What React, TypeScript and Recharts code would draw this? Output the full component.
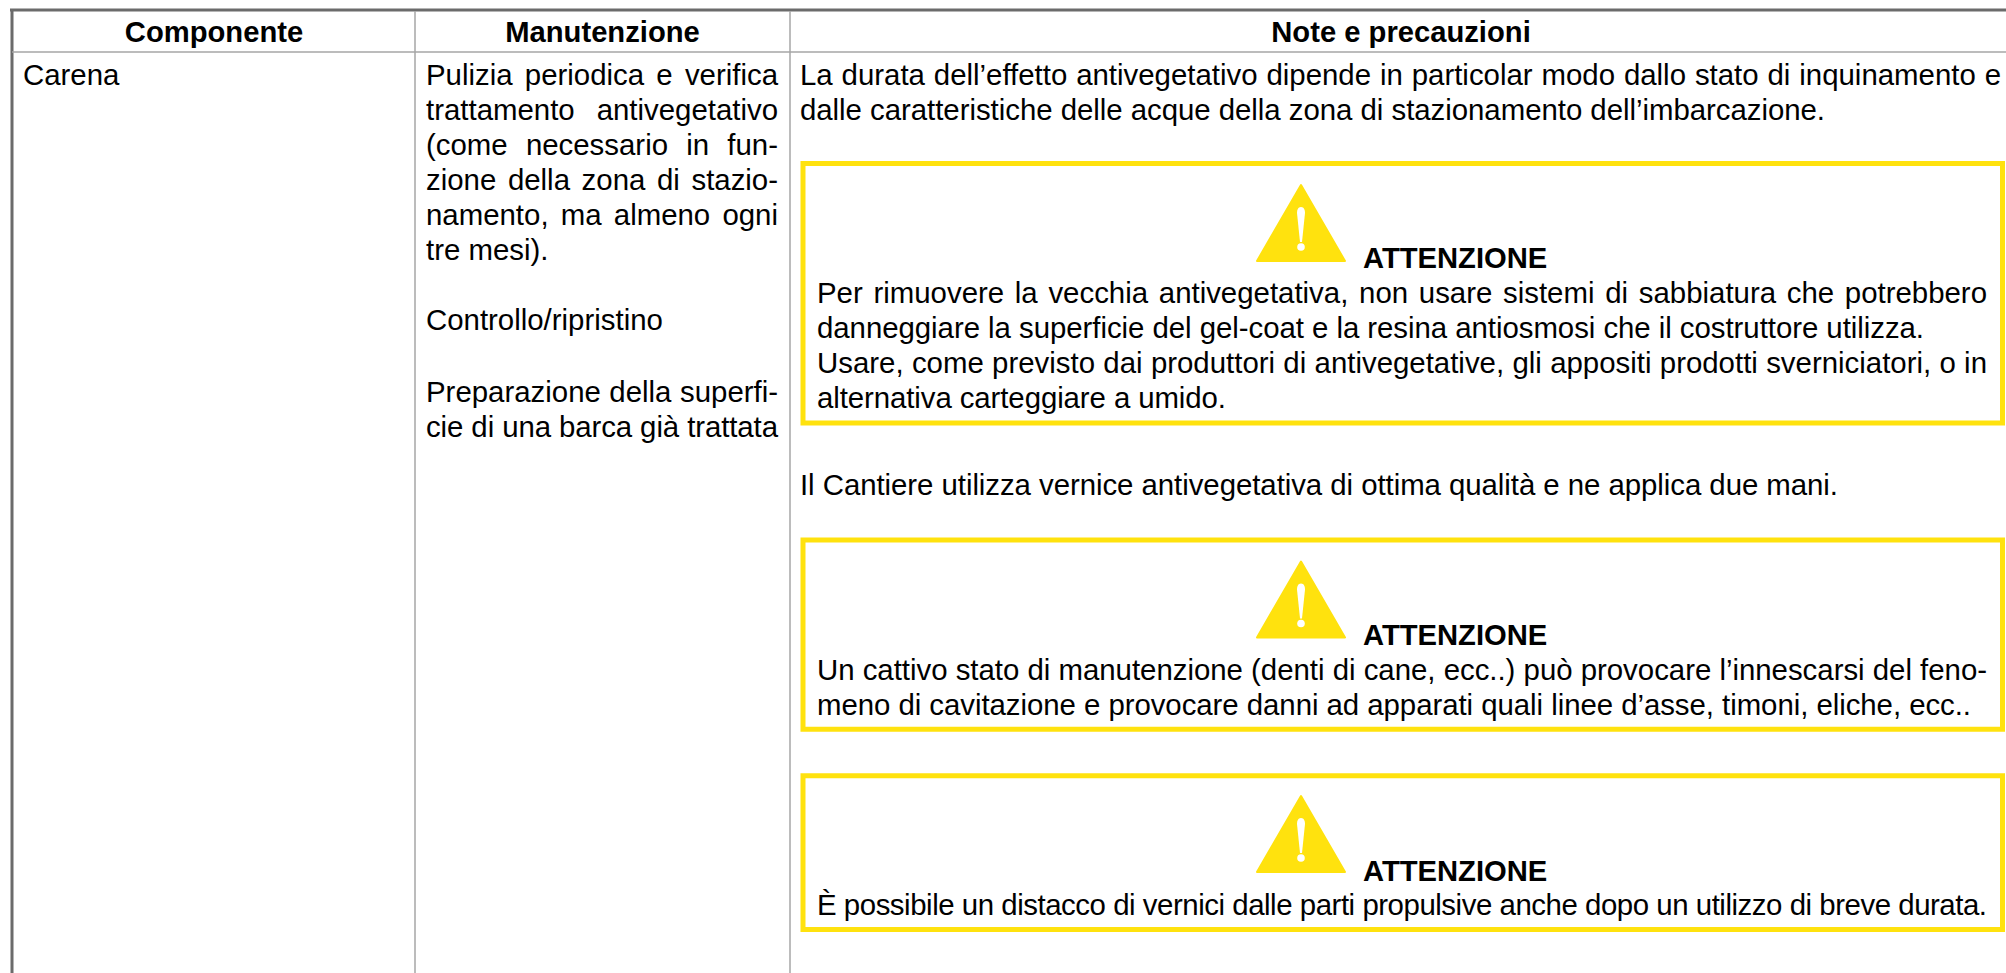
import React from "react";
import { ScatterChart, Scatter, XAxis, YAxis, ReferenceLine, ReferenceArea } from "recharts";

const WIDTH = 2006;
const HEIGHT = 973;
const FONT = "'Liberation Sans', Arial, sans-serif";
const BODY_SIZE = 29.4;
const BOLD_SIZE = 29.2;

const headers = ["Componente", "Manutenzione", "Note e precauzioni"];
const component = ["Carena"];
const maintenance = [
  "Pulizia periodica e verifica",
  "trattamento  antivegetativo",
  "(come necessario in fun-",
  "zione della zona di stazio-",
  "namento, ma almeno ogni",
  "tre mesi).",
];
const maintenance2 = ["Controllo/ripristino"];
const maintenance3 = ["Preparazione della superfi-", "cie di una barca già trattata"];
const intro = [
  "La durata dell’effetto antivegetativo dipende in particolar modo dallo stato di inquinamento e",
  "dalle caratteristiche delle acque della zona di stazionamento dell’imbarcazione.",
];
const warningTitle = "ATTENZIONE";
const warning1 = [
  "Per rimuovere la vecchia antivegetativa, non usare sistemi di sabbiatura che potrebbero",
  "danneggiare la superficie del gel-coat e la resina antiosmosi che il costruttore utilizza.",
  "Usare, come previsto dai produttori di antivegetative, gli appositi prodotti sverniciatori, o in",
  "alternativa carteggiare a umido.",
];
const middle = ["Il Cantiere utilizza vernice antivegetativa di ottima qualità e ne applica due mani."];
const warning2 = [
  "Un cattivo stato di manutenzione (denti di cane, ecc..) può provocare l’innescarsi del feno-",
  "meno di cavitazione e provocare danni ad apparati quali linee d’asse, timoni, eliche, ecc..",
];
const warning3 = ["È possibile un distacco di vernici dalle parti propulsive anche dopo un utilizzo di breve durata."];

const measureCtx = typeof document !== "undefined" ? document.createElement("canvas").getContext("2d") : null;
function fitStyle(text: string, target: number | undefined, size: number) {
  if (!measureCtx || !target) return {};
  measureCtx.font = `${size}px 'Liberation Sans'`;
  const natural = measureCtx.measureText(text).width;
  const gaps = (text.match(/ /g) || []).length;
  if (natural >= target) return { letterSpacing: (target - natural) / (text.length - 1) };
  return gaps ? { wordSpacing: (target - natural) / gaps } : {};
}

type Row = { x: number; y: number; text: string; bold?: boolean; anchor?: string; fit?: number };
function block(lines: string[], x: number, y: number, step: number, fits: number[] = []): Row[] {
  return lines.map((text, i) => ({ x, y: y + i * step, text, fit: fits[i] || undefined }));
}

const LINE = 35;
const textRows: Row[] = [
  { x: 214, y: 41.5, text: headers[0], bold: true, anchor: "middle" },
  { x: 602.5, y: 41.5, text: headers[1], bold: true, anchor: "middle" },
  { x: 1401, y: 41.5, text: headers[2], bold: true, anchor: "middle" },
  ...block(component, 23, 85, LINE),
  ...block(maintenance, 426, 85, LINE, [352, 352, 352, 352, 352]),
  ...block(maintenance2, 426, 330, LINE),
  ...block(maintenance3, 426, 402, LINE, [352, 352]),
  ...block(intro, 800, 84.5, LINE, [1201, 1025]),
  { x: 1363, y: 268, text: warningTitle, bold: true },
  ...block(warning1, 817, 303, LINE, [1170, 1107, 1170, 409]),
  ...block(middle, 800, 495, LINE, [1038]),
  { x: 1363, y: 645, text: warningTitle, bold: true },
  ...block(warning2, 817, 680, LINE, [1170, 1154]),
  { x: 1363, y: 881, text: warningTitle, bold: true },
  ...block(warning3, 817, 915, LINE, [1170]),
];

const triangles = [{ x: 1301, y: 262 }, { x: 1301, y: 638.5 }, { x: 1301, y: 873 }];
const boxes = [
  { y1: 163.5, y2: 423 },
  { y1: 540, y2: 729.2 },
  { y1: 775.7, y2: 929.5 },
];
const columnLines = [415, 790];

const YELLOW = "#FFE20E";

const TextMark = (p: any) => {
  const r: Row = p.payload;
  const size = r.bold ? BOLD_SIZE : BODY_SIZE;
  return (
    <text
      x={p.cx}
      y={p.cy}
      fontFamily={FONT}
      fontSize={size}
      fontWeight={r.bold ? 700 : 400}
      fill="#000"
      textAnchor={r.anchor || "start"}
      style={{ whiteSpace: "pre", ...fitStyle(r.text, r.fit, size) }}
    >
      {r.text}
    </text>
  );
};

const TriangleMark = (p: any) => {
  const { cx, cy } = p;
  return (
    <g>
      <path
        d={`M${cx} ${cy - 77} L${cx + 44} ${cy - 1} L${cx - 44} ${cy - 1} Z`}
        fill={YELLOW}
        stroke={YELLOW}
        strokeWidth={2}
        strokeLinejoin="round"
      />
      <path
        d={`M${cx} ${cy - 55} C${cx + 3} ${cy - 55} ${cx + 4} ${cy - 52} ${cx + 4} ${cy - 49} L${cx + 1} ${cy - 20} L${cx - 1} ${cy - 20} L${cx - 4} ${cy - 49} C${cx - 4} ${cy - 52} ${cx - 3} ${cy - 55} ${cx} ${cy - 55} Z`}
        fill="#fff"
      />
      <circle cx={cx} cy={cy - 15} r={3.8} fill="#fff" />
    </g>
  );
};

export default function App() {
  return (
    <div style={{ position: "absolute", left: 0, top: 0, width: WIDTH, height: HEIGHT, background: "#fff" }}>
      <ScatterChart width={WIDTH} height={HEIGHT} margin={{ top: 0, right: 0, bottom: 0, left: 0 }}>
        <XAxis type="number" dataKey="x" domain={[0, WIDTH]} hide />
        <YAxis type="number" dataKey="y" domain={[0, HEIGHT]} reversed hide />
        <ReferenceLine segment={[{ x: 12, y: 9 }, { x: 12, y: HEIGHT }]} stroke="#6b6b6b" strokeWidth={3} ifOverflow="visible" />
        <ReferenceLine segment={[{ x: 10, y: 10 }, { x: WIDTH, y: 10 }]} stroke="#6b6b6b" strokeWidth={3} ifOverflow="visible" />
        <ReferenceLine segment={[{ x: 12, y: 52 }, { x: WIDTH, y: 52 }]} stroke="#a6a6a6" strokeWidth={1.5} ifOverflow="visible" />
        {columnLines.map((x) => (
          <ReferenceLine key={x} segment={[{ x, y: 11 }, { x, y: HEIGHT }]} stroke="#a6a6a6" strokeWidth={1.5} ifOverflow="visible" />
        ))}
        {boxes.map((b) => (
          <ReferenceArea key={b.y1} x1={803} x2={2002.5} y1={b.y1} y2={b.y2} fill="none" stroke={YELLOW} strokeWidth={5} ifOverflow="visible" />
        ))}
        <Scatter data={triangles} isAnimationActive={false} shape={TriangleMark} />
        <Scatter data={textRows} isAnimationActive={false} shape={TextMark} />
      </ScatterChart>
    </div>
  );
}
